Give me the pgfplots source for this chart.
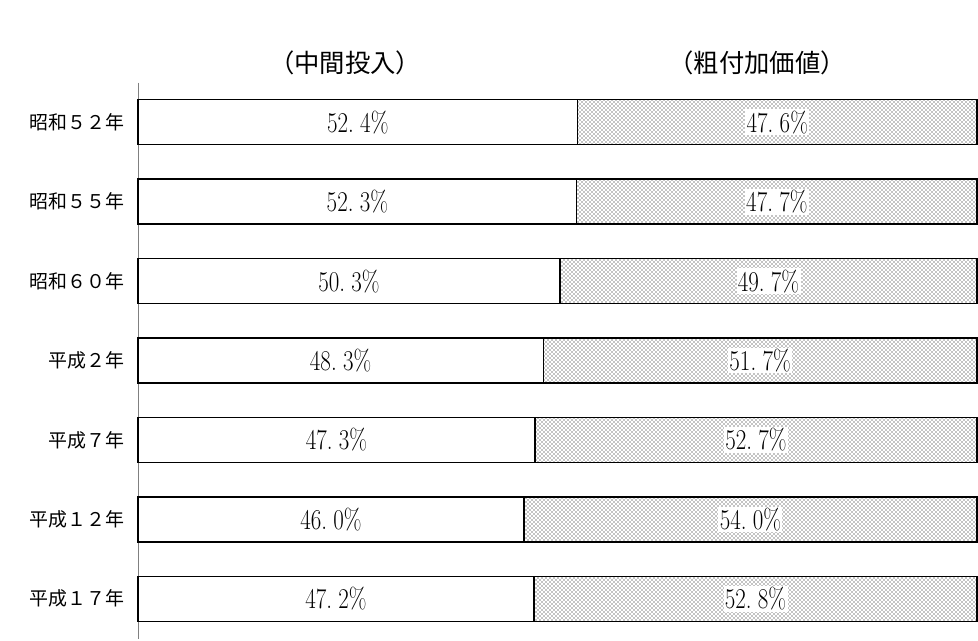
\documentclass[border=0pt]{standalone}
\usepackage{pgfplots}
\pgfplotsset{compat=1.18}
\usetikzlibrary{patterns}
\usepackage{fontspec}
\newfontfamily\jp{Noto Sans CJK JP}
\newfontfamily\numfont[FakeStretch=0.8]{Latin Modern Roman}
\begin{document}
\begin{tikzpicture}
\path[use as bounding box] (-103.5pt,-1.125pt) rectangle (630pt,478.875pt);
\begin{axis}[
  at={(0,0)}, anchor=south west,
  scale only axis, width=629.25pt, height=417pt,
  xbar stacked, bar width=33.75pt,
  xmin=0, xmax=100, ymin=0.5, ymax=7.5, y dir=reverse,
  axis x line=none, axis y line*=left,
  y axis line style={gray, -, line width=0.6pt},
  ytick={1,...,7},
  yticklabels={昭和５２年,昭和５５年,昭和６０年,平成２年,平成７年,平成１２年,平成１７年},
  yticklabel style={font=\jp\fontsize{14.2pt}{15pt}\selectfont, xshift=-7pt},
  major tick length=0pt,
  clip=false,
  point meta=explicit,
  nodes near coords={\pgfmathprintnumber[fixed,precision=1,fixed zerofill,assume math mode=true,dec sep={.\hspace{0.22em}}]{\pgfplotspointmeta}\%},
  every node near coord/.append style={fill=white, inner sep=1pt, font=\numfont\fontsize{21.5pt}{23pt}\selectfont},
]
\addplot[draw=black, fill=white, line width=1pt] coordinates {
 (52.4,1) [52.4] (52.3,2) [52.3] (50.3,3) [50.3] (48.3,4) [48.3] (47.3,5) [47.3] (46.0,6) [46.0] (47.2,7) [47.2]};
\addplot[draw=black, pattern=crosshatch dots, pattern color=black, line width=1pt] coordinates {
 (47.6,1) [47.6] (47.7,2) [47.7] (49.7,3) [49.7] (51.7,4) [51.7] (52.7,5) [52.7] (54.0,6) [54.0] (52.8,7) [52.8]};
\node[font=\jp\fontsize{19pt}{21pt}\selectfont] at (axis cs:24.7,0.25) {（中間投入）};
\node[font=\jp\fontsize{19pt}{21pt}\selectfont] at (axis cs:73.8,0.25) {（粗付加価値）};
\end{axis}
\end{tikzpicture}
\end{document}
